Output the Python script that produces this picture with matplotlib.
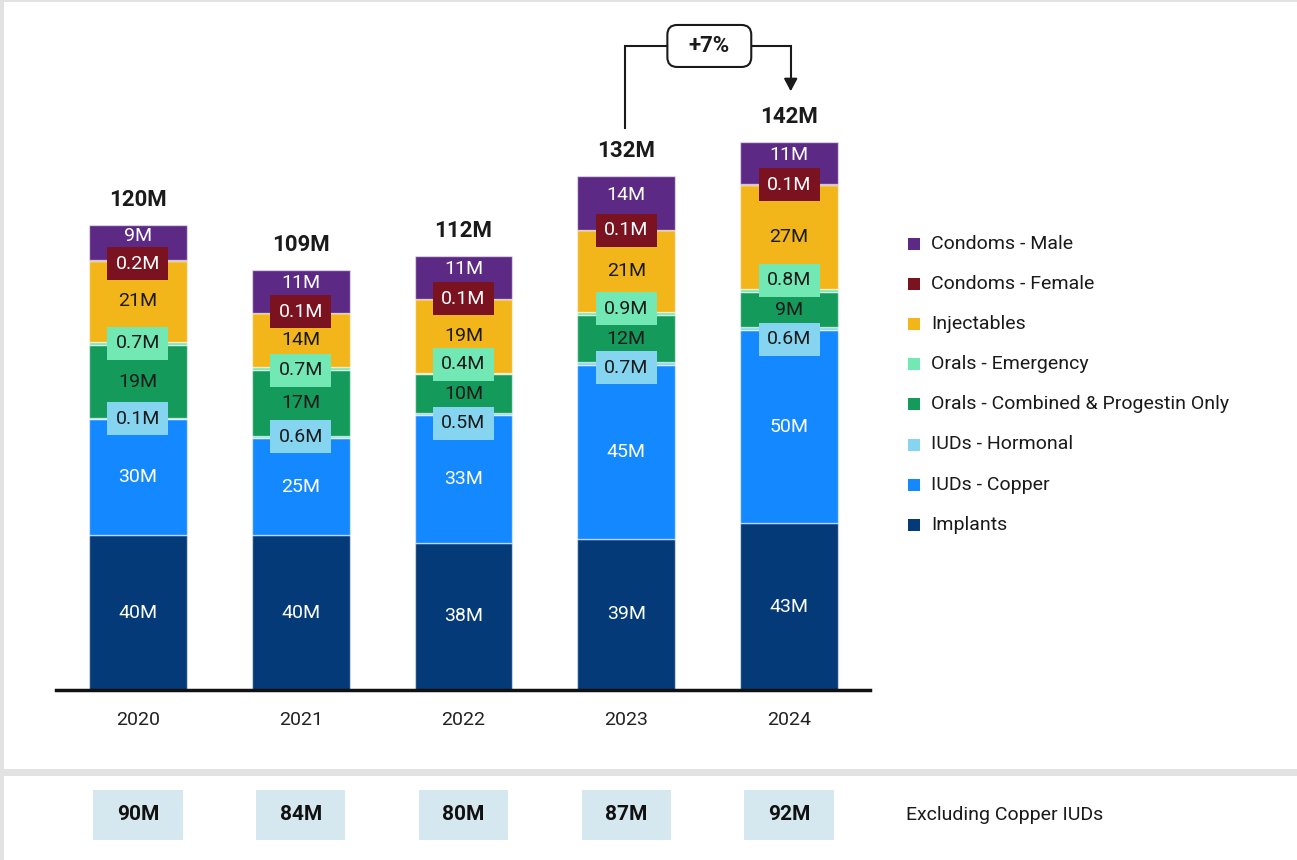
import matplotlib
matplotlib.use("Agg")
import matplotlib.pyplot as plt
from matplotlib.patches import Rectangle, FancyBboxPatch

plt.rcParams['font.family'] = ['Roboto', 'DejaVu Sans']

# ---- data (millions) ----
years = ["2020", "2021", "2022", "2023", "2024"]
categories = ["Implants", "IUDs - Copper", "IUDs - Hormonal",
              "Orals - Combined & Progestin Only", "Orals - Emergency",
              "Injectables", "Condoms - Female", "Condoms - Male"]
implants = [40, 40, 38, 39, 43]
iuds_copper = [30, 25, 33, 45, 50]
iuds_hormonal = [0.1, 0.6, 0.5, 0.7, 0.6]
orals_combined = [19, 17, 10, 12, 9]
orals_emergency = [0.7, 0.7, 0.4, 0.9, 0.8]
injectables = [21, 14, 19, 21, 27]
condoms_female = [0.2, 0.1, 0.1, 0.1, 0.1]
condoms_male = [9, 11, 11, 14, 11]
totals = [120, 109, 112, 132, 142]
excl_copper = [90, 84, 80, 87, 92]
change_label = "+7%"

series = [implants, iuds_copper, iuds_hormonal, orals_combined,
          orals_emergency, injectables, condoms_female, condoms_male]
colors = ["#053a78", "#1489ff", "#86d5f0", "#149a5b",
          "#72e8b4", "#f2b51a", "#7b1220", "#5c2a84"]
text_colors = ["white", "white", "#1a1a1a", "#1a1a1a",
               "#1a1a1a", "#1a1a1a", "white", "white"]
boxed = [False, False, True, False, True, False, True, False]

W, H = 1297, 860
fig = plt.figure(figsize=(W / 100, H / 100), dpi=100, facecolor="#e2e2e2")


def fx(px):
    return px / W


def fy(py):
    return 1 - py / H


# white panels
fig.add_artist(Rectangle((fx(4), fy(769)), fx(W - 4), (769 - 2) / H,
                         transform=fig.transFigure, facecolor="white",
                         edgecolor="none", zorder=0))
fig.add_artist(Rectangle((fx(4), 0), fx(W - 4), (H - 776) / H,
                         transform=fig.transFigure, facecolor="white",
                         edgecolor="none", zorder=0))

# ---- main stacked bars ----
px_per_m = 3.875          # vertical pixels per million
px_per_x = 163.0          # horizontal pixels per category step
ymax = 170
ax = fig.add_axes([fx(56), fy(690), 814 / W, ymax * px_per_m / H])
ax.set_facecolor("none")
x = list(range(len(years)))
bw = 0.6

bottoms = [0.0] * len(years)
seg_lo, seg_hi = [], []
for vals, col in zip(series, colors):
    ax.bar(x, vals, bw, bottom=bottoms, color=col,
           edgecolor=(1, 1, 1, 0.55), linewidth=1.0, zorder=2)
    seg_lo.append(list(bottoms))
    bottoms = [b + v for b, v in zip(bottoms, vals)]
    seg_hi.append(list(bottoms))

# label layout: small segments get fixed-size tags, other labels are kept
# clear of those tags
box_h = 33 / px_per_m
box_w = 61 / px_per_x
need = 26 / px_per_m
half_txt = 11 / px_per_m
n = len(series)
for i in x:
    box_c = {k: (seg_lo[k][i] + seg_hi[k][i]) / 2 for k in range(n) if boxed[k]}

    def visible(k):
        lo, hi = seg_lo[k][i], seg_hi[k][i]
        if k - 1 in box_c:
            lo = max(lo, box_c[k - 1] + box_h / 2)
        if k + 1 in box_c:
            hi = min(hi, box_c[k + 1] - box_h / 2)
        return lo, hi

    for k in range(n):
        if boxed[k]:
            continue
        lo, hi = visible(k)
        deficit = need - (hi - lo)
        if deficit > 0:
            if k - 1 in box_c:
                box_c[k - 1] -= deficit / 2
            if k + 1 in box_c:
                box_c[k + 1] += deficit / 2

    for k in range(n):
        v = series[k][i]
        label = f"{v:g}M"
        if boxed[k]:
            yc = box_c[k]
            ax.add_patch(Rectangle((x[i] - box_w / 2, yc - box_h / 2),
                                   box_w, box_h, facecolor=colors[k],
                                   edgecolor="none", zorder=4))
            ax.text(x[i], yc, label, ha="center", va="center", fontsize=14,
                    color=text_colors[k], zorder=5)
        else:
            lo, hi = visible(k)
            c = (seg_lo[k][i] + seg_hi[k][i]) / 2
            if not (c - half_txt >= lo and c + half_txt <= hi):
                c = (lo + hi) / 2
            ax.text(x[i], c, label, ha="center", va="center", fontsize=14,
                    color=text_colors[k], zorder=5)

for i, t in enumerate(totals):
    ax.annotate(f"{t}M", (x[i], bottoms[i]), xytext=(0, 18),
                textcoords="offset points", ha="center", va="center",
                fontsize=16, fontweight="bold", color="#1a1a1a")

ax.set_xlim(-0.503, 4.497)
ax.set_ylim(0, ymax)
ax.set_xticks(x)
ax.set_xticklabels(years, fontsize=14, color="#222222")
ax.tick_params(axis="x", length=0, pad=15)
ax.set_yticks([])
for s in ["top", "right", "left"]:
    ax.spines[s].set_visible(False)
ax.spines["bottom"].set_linewidth(2.5)
ax.spines["bottom"].set_color("#111111")

# ---- year-over-year change callout ----
i0, i1 = 3, 4
y_start = bottoms[i0] + 12.3
y_top = bottoms[i0] + 33.5
y_tip = bottoms[i1] + 13.0
xc = (x[i0] + x[i1]) / 2 + 0.01
cw, ch = 84 / px_per_x, 42 / px_per_m
ax.plot([x[i0] - 0.01, x[i0] - 0.01, xc - cw / 2], [y_start, y_top, y_top],
        color="#1a1a1a", lw=1.5, clip_on=False, solid_joinstyle="miter")
ax.plot([xc + cw / 2, x[i1] + 0.01, x[i1] + 0.01], [y_top, y_top, y_tip + 2.5],
        color="#1a1a1a", lw=1.5, clip_on=False, solid_joinstyle="miter")
ax.annotate("", xy=(x[i1] + 0.01, y_tip), xytext=(x[i1] + 0.01, y_tip + 3.3),
            arrowprops=dict(arrowstyle="-|>,head_length=0.75,head_width=0.4",
                            color="#1a1a1a", lw=1.5, shrinkA=0, shrinkB=0),
            annotation_clip=False)
ax.add_patch(FancyBboxPatch((xc - cw / 2, y_top - ch / 2), cw, ch,
                            boxstyle="round,pad=0,rounding_size=0.06",
                            mutation_aspect=px_per_x / px_per_m,
                            facecolor="white", edgecolor="#1a1a1a",
                            linewidth=1.5, clip_on=False, zorder=6))
ax.text(xc, y_top, change_label, ha="center", va="center", fontsize=16,
        fontweight="bold", color="#1a1a1a", zorder=7)

# ---- legend ----
for k, (name, col) in enumerate(zip(categories[::-1], colors[::-1])):
    yc = 244 + k * 40.1
    fig.add_artist(Rectangle((fx(908), fy(yc + 6)), 12 / W, 12 / H,
                             transform=fig.transFigure, facecolor=col,
                             edgecolor="none"))
    fig.text(fx(931), fy(yc), name, ha="left", va="center", fontsize=14,
             color="#1a1a1a")

# ---- totals excluding copper IUDs ----
ax2 = fig.add_axes([fx(56), fy(840), 814 / W, 50 / H])
ax2.set_facecolor("none")
ax2.bar(x, [1] * len(x), 0.55, color="#d5e7ef", edgecolor="none")
for i, v in enumerate(excl_copper):
    ax2.text(x[i], 0.5, f"{v}M", ha="center", va="center", fontsize=15,
             fontweight="bold", color="#111111")
ax2.set_xlim(ax.get_xlim())
ax2.set_ylim(0, 1)
ax2.axis("off")
fig.text(fx(906), fy(815), "Excluding Copper IUDs", ha="left", va="center",
         fontsize=14, color="#1a1a1a")

fig.savefig("out.png", dpi=100, facecolor=fig.get_facecolor())
